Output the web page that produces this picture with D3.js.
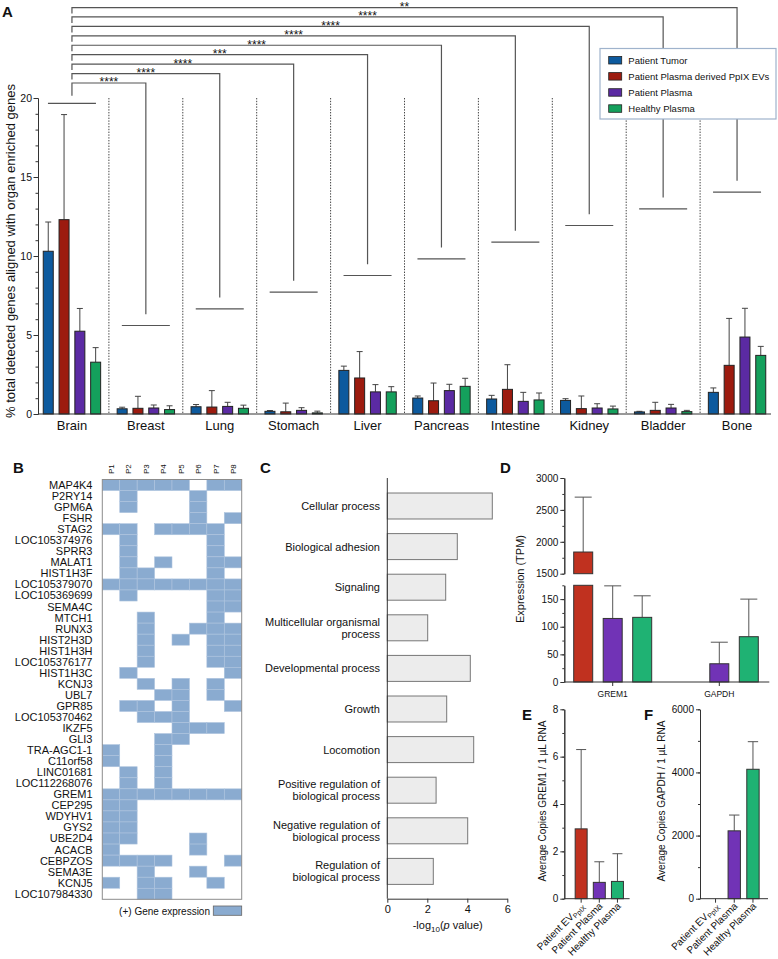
<!DOCTYPE html>
<html>
<head>
<meta charset="utf-8">
<script src="https://cdn.jsdelivr.net/npm/d3@7"></script>
<style>
  body { margin: 0; background: #fff; }
  svg text { font-family: "Liberation Sans", Arial, sans-serif; fill: #111; }
</style>
</head>
<body>
<div id="chart"></div>
<script>
// ---------- Panel A data ----------
const organs = ["Brain", "Breast", "Lung", "Stomach", "Liver", "Pancreas", "Intestine", "Kidney", "Bladder", "Bone"];
const series = ["Patient Tumor", "Patient Plasma derived PpIX EVs", "Patient Plasma", "Healthy Plasma"];
const tumorMean   = [10.3, 0.33, 0.46, 0.17, 2.76, 1.01, 0.95, 0.86, 0.13, 1.37];
const tumorSD     = [1.85, 0.10, 0.14, 0.05, 0.27, 0.13, 0.23, 0.11, 0.04, 0.28];
const evMean      = [12.3, 0.36, 0.44, 0.14, 2.28, 0.84, 1.56, 0.34, 0.23, 3.08];
const evSD        = [6.65, 0.76, 1.04, 0.55, 1.67, 1.12, 1.56, 0.80, 0.51, 2.97];
const plasmaMean  = [5.24, 0.38, 0.48, 0.23, 1.40, 1.48, 0.80, 0.38, 0.38, 4.87];
const plasmaSD    = [1.44, 0.19, 0.26, 0.17, 0.46, 0.40, 0.57, 0.27, 0.23, 1.82];
const healthyMean = [3.28, 0.28, 0.36, 0.07, 1.40, 1.75, 0.89, 0.32, 0.15, 3.71];
const healthySD   = [0.92, 0.24, 0.20, 0.11, 0.33, 0.51, 0.44, 0.18, 0.08, 0.57];
// significance of Brain vs each other organ
const sigLabels = ["****", "****", "****", "***", "****", "****", "****", "****", "**"];
const yTicksA = [0, 5, 10, 15, 20];

// ---------- Panel B data ----------
const patients = ["P1", "P2", "P3", "P4", "P5", "P6", "P7", "P8"];
const genes = ["MAP4K4", "P2RY14", "GPM6A", "FSHR", "STAG2", "LOC105374976", "SPRR3", "MALAT1",
  "HIST1H3F", "LOC105379070", "LOC105369699", "SEMA4C", "MTCH1", "RUNX3", "HIST2H3D", "HIST1H3H",
  "LOC105376177", "HIST1H3C", "KCNJ3", "UBL7", "GPR85", "LOC105370462", "IKZF5", "GLI3",
  "TRA-AGC1-1", "C11orf58", "LINC01681", "LOC112268076", "GREM1", "CEP295", "WDYHV1", "GYS2",
  "UBE2D4", "ACACB", "CEBPZOS", "SEMA3E", "KCNJ5", "LOC107984330"];
// one string per gene, one character per patient (1 = expressed)
const expression = ["11111011", "01000100", "01000100", "00000101", "11011110", "01000010", "01000010", "01010011",
  "01100010", "11111111", "01000011", "00000011", "00100010", "00100111", "00101011", "00100011",
  "00100011", "01000001", "00101010", "00011010", "01101001", "00111000", "00001110", "00011000",
  "10010000", "10010000", "01010000", "01010000", "11111111", "11000000", "11000000", "11000000",
  "11000100", "10000100", "11110001", "00100100", "10110010", "00110000"];

// ---------- Panel C data ----------
const goTerms = ["Cellular process", "Biological adhesion", "Signaling", "Multicellular organismal\nprocess",
  "Developmental process", "Growth", "Locomotion", "Positive regulation of\nbiological process",
  "Negative regulation of\nbiological process", "Regulation of\nbiological process"];
const goValues = [5.25, 3.5, 2.92, 2.02, 4.15, 2.97, 4.32, 2.44, 4.02, 2.3];
const goTicks = [0, 2, 4, 6];

// ---------- Panel D data ----------
const dGenes = ["GREM1", "GAPDH"];
const dSeries = ["Patient EV", "Patient Plasma", "Healthy Plasma"];
const dEVMean = [1840, 0],   dEVSD = [860, 0];
const dPlasmaMean = [115, 33], dPlasmaSD = [59, 39];
const dHealthyMean = [117, 82], dHealthySD = [39, 68];

// ---------- Panel E / F data ----------
const qGroups = ["Patient EV", "Patient Plasma", "Healthy Plasma"];
const gremMean = [2.95, 0.69, 0.73], gremSD = [3.35, 0.87, 1.17];
const gapdhMean = [0, 2150, 4100],   gapdhSD = [0, 500, 874];

// ---------- setup ----------
const width = 778, height = 959;
const svg = d3.select("#chart").append("svg")
  .attr("width", width).attr("height", height);

const colA = d3.scaleOrdinal().domain(series).range(["#0d5a9e", "#9c1b0f", "#5b2aa3", "#14a05c"]);
const colQ = ["#c0311f", "#7133b6", "#1fb273"];
const plain = d3.format("d");

function panelLabel(t, x, y) {
  svg.append("text").attr("x", x).attr("y", y).text(t)
    .attr("font-size", 15).attr("font-weight", "bold");
}

function styleAxis(g, size) {
  g.selectAll("path, line").attr("stroke", "#333").attr("stroke-width", 1);
  g.selectAll("text").attr("font-size", size).attr("fill", "#111")
    .attr("font-family", '"Liberation Sans", Arial, sans-serif');
}

// ======================= Panel A =======================
panelLabel("A", 2, 17);
const x0 = d3.scaleBand().domain(organs).range([35, 774]);
const x1 = d3.scaleBand().domain(series).range([-34.5, 34.5]).padding(0.367);
const yA = d3.scaleLinear().domain([0, 20]).range([414, 98]);
const cx = o => x0(o) + x0.bandwidth() / 2;

const aData = organs.map((o, i) => ({
  organ: o,
  vals: [
    { s: series[0], m: tumorMean[i], sd: tumorSD[i] },
    { s: series[1], m: evMean[i], sd: evSD[i] },
    { s: series[2], m: plasmaMean[i], sd: plasmaSD[i] },
    { s: series[3], m: healthyMean[i], sd: healthySD[i] }
  ]
}));

// dotted separators between organs
svg.selectAll(".sep").data(organs.slice(1)).enter().append("line")
  .attr("x1", d => x0(d)).attr("x2", d => x0(d))
  .attr("y1", yA(20)).attr("y2", yA(0))
  .attr("stroke", "#444").attr("stroke-width", 1).attr("stroke-dasharray", "1.4,1.4");

const grp = svg.selectAll(".grp").data(aData).enter().append("g")
  .attr("transform", d => `translate(${cx(d.organ)},0)`);

grp.selectAll(".err").data(d => d.vals).enter().append("path")
  .attr("d", v => {
    const xc = x1(v.s) + x1.bandwidth() / 2, yt = yA(v.m + v.sd);
    return `M${xc},${yA(v.m)}V${yt}M${xc - 3},${yt}H${xc + 3}`;
  })
  .attr("stroke", "#444").attr("stroke-width", 1).attr("fill", "none");

grp.selectAll(".bar").data(d => d.vals).enter().append("rect")
  .attr("x", v => x1(v.s)).attr("width", x1.bandwidth())
  .attr("y", v => yA(v.m)).attr("height", v => yA(0) - yA(v.m))
  .attr("fill", v => colA(v.s)).attr("stroke", "#222").attr("stroke-width", 1);

// y axis
const yAxisA = svg.append("g").attr("transform", "translate(38,0)")
  .call(d3.axisLeft(yA).tickValues(yTicksA).tickFormat(plain).tickSize(4.5).tickPadding(1.5).tickSizeOuter(0));
styleAxis(yAxisA, 10.5);
const yMinorA = svg.append("g").attr("transform", "translate(38,0)")
  .call(d3.axisLeft(yA).tickValues(d3.range(0, 21)).tickSize(2.5).tickFormat("").tickSizeOuter(0));
styleAxis(yMinorA, 10);

svg.append("line").attr("x1", 38).attr("x2", 771).attr("y1", yA(0)).attr("y2", yA(0))
  .attr("stroke", "#333").attr("stroke-width", 1);

svg.selectAll(".cat").data(organs).enter().append("text")
  .attr("x", d => cx(d)).attr("y", 430).attr("text-anchor", "middle")
  .attr("font-size", 13).text(d => d);

svg.append("text")
  .attr("transform", "translate(15,251) rotate(-90)")
  .attr("text-anchor", "middle").attr("font-size", 13)
  .text("% total detected genes aligned with organ enriched genes");

// significance brackets
const brainX = cx(organs[0]);
const brk = svg.append("g").attr("stroke", "#555").attr("stroke-width", 1.2).attr("fill", "none");
brk.append("line").attr("x1", brainX - 24).attr("x2", brainX + 24)
  .attr("y1", yA(19.66)).attr("y2", yA(19.66));
organs.slice(1).forEach((o, i) => {
  const xo = cx(o);
  const base = 5.6 + i * 1.055;
  const top = yA(20.95 + i * 0.597);
  brk.append("line").attr("x1", xo - 24).attr("x2", xo + 24)
    .attr("y1", yA(base)).attr("y2", yA(base));
  const legEnd = i === 0 ? yA(20.15) : top + 6;
  brk.append("path")
    .attr("d", `M${brainX},${legEnd}V${top}H${xo}V${yA(base + 0.72)}`);
  svg.append("text").attr("x", (brainX + xo) / 2).attr("y", top + 3.5)
    .attr("text-anchor", "middle").attr("font-size", 12).text(sigLabels[i]);
});

// legend
const legA = svg.append("g").attr("transform", "translate(600,48.5)");
legA.append("rect").attr("width", 176).attr("height", 70.5)
  .attr("fill", "#fff").attr("stroke", "#9fb3cc").attr("stroke-width", 1.2);
series.forEach((s, i) => {
  legA.append("rect").attr("x", 8.7).attr("y", 8 + i * 16.1).attr("width", 13).attr("height", 7.5)
    .attr("fill", colA(s)).attr("stroke", "#222").attr("stroke-width", 0.8);
  legA.append("text").attr("x", 28.3).attr("y", 15.3 + i * 16.1)
    .attr("font-size", 9.5).text(s);
});

// ======================= Panel B =======================
panelLabel("B", 13, 473);
const xB = d3.scaleBand().domain(patients).range([102.3, 241.7]);
const yB = d3.scaleBand().domain(genes).range([479.5, 899.3]);
const cellColor = "#8aabd0";

const cells = [];
genes.forEach((g, i) => {
  patients.forEach((p, j) => { if (expression[i][j] === "1") cells.push({ g, p }); });
});
svg.selectAll(".cell").data(cells).enter().append("rect")
  .attr("x", d => xB(d.p)).attr("y", d => yB(d.g))
  .attr("width", xB.bandwidth()).attr("height", yB.bandwidth())
  .attr("fill", cellColor).attr("stroke", "#aec4de").attr("stroke-width", 0.6);

svg.append("rect").attr("x", 102.3).attr("y", 479.5)
  .attr("width", 139.4).attr("height", 419.8)
  .attr("fill", "none").attr("stroke", "#8c8c8c").attr("stroke-width", 1);

svg.selectAll(".gene").data(genes).enter().append("text")
  .attr("x", 92.5).attr("y", d => yB(d) + yB.bandwidth() / 2).attr("dy", "0.36em")
  .attr("text-anchor", "end").attr("font-size", 11).text(d => d);

svg.selectAll(".pat").data(patients).enter().append("text")
  .attr("transform", d => `translate(${xB(d) + xB.bandwidth() / 2 + 3},474) rotate(-90)`)
  .attr("font-size", 8).text(d => d);

svg.append("text").attr("x", 210).attr("y", 914.5).attr("text-anchor", "end")
  .attr("font-size", 10).text("(+) Gene expression");
svg.append("rect").attr("x", 213.3).attr("y", 906).attr("width", 28.4).attr("height", 9.3)
  .attr("fill", cellColor).attr("stroke", "#666").attr("stroke-width", 0.8);

// ======================= Panel C =======================
panelLabel("C", 260, 473);
const xC = d3.scaleLinear().domain([0, 6]).range([387.3, 507.3]);
const yC = d3.scaleBand().domain(goTerms).range([485.7, 891.7]).paddingInner(0.36).paddingOuter(0.18);

svg.selectAll(".go").data(goTerms).enter().append("rect")
  .attr("x", xC(0)).attr("y", d => yC(d))
  .attr("width", (d, i) => xC(goValues[i]) - xC(0)).attr("height", yC.bandwidth())
  .attr("fill", "#ececec").attr("stroke", "#777").attr("stroke-width", 1);

svg.append("line").attr("x1", 387.3).attr("x2", 387.3).attr("y1", 478).attr("y2", 898.7)
  .attr("stroke", "#333");
const xAxisC = svg.append("g").attr("transform", "translate(0,898.7)")
  .call(d3.axisBottom(xC).tickValues(goTicks).tickFormat(plain).tickSize(4).tickPadding(3).tickSizeOuter(0));
styleAxis(xAxisC, 11);

goTerms.forEach(t => {
  const lines = t.split("\n");
  const yc = yC(t) + yC.bandwidth() / 2 - (lines.length - 1) * 6;
  const tx = svg.append("text").attr("x", 380).attr("y", yc)
    .attr("text-anchor", "end").attr("font-size", 11);
  lines.forEach((l, k) => tx.append("tspan").attr("x", 380).attr("dy", k === 0 ? "0.36em" : 12).text(l));
});

const xlabC = svg.append("text").attr("x", 447.7).attr("y", 929).attr("text-anchor", "middle")
  .attr("font-size", 11);
xlabC.append("tspan").text("-log");
xlabC.append("tspan").attr("font-size", 8).attr("dy", 3).text("10");
xlabC.append("tspan").attr("dy", -3).text("(");
xlabC.append("tspan").attr("font-style", "italic").text("p");
xlabC.append("tspan").text(" value)");

// ======================= Panel D =======================
panelLabel("D", 500, 473);
const yDlow = d3.scaleLinear().domain([0, 175]).range([682, 585.3]);
const yDhigh = d3.scaleLinear().domain([1500, 3000]).range([573.7, 478]);
const xD0 = d3.scaleBand().domain(dGenes).range([559.4, 772.6]);
const xD1 = d3.scaleBand().domain(dSeries).range([-49.5, 49.5]).padding(0.356);

const dData = dGenes.map((g, i) => ({
  gene: g,
  vals: [
    { s: dSeries[0], c: colQ[0], m: dEVMean[i], sd: dEVSD[i] },
    { s: dSeries[1], c: colQ[1], m: dPlasmaMean[i], sd: dPlasmaSD[i] },
    { s: dSeries[2], c: colQ[2], m: dHealthyMean[i], sd: dHealthySD[i] }
  ].filter(v => v.m > 0)
}));

const gD = svg.selectAll(".dg").data(dData).enter().append("g")
  .attr("transform", d => `translate(${xD0(d.gene) + xD0.bandwidth() / 2},0)`);

gD.selectAll(".derr").data(d => d.vals).enter().append("path")
  .attr("d", v => {
    const ys = v.m > 175 ? yDhigh : yDlow;
    const xl = xD1(v.s), xr = xl + xD1.bandwidth(), xc = (xl + xr) / 2;
    const yt = ys(v.m + v.sd);
    return `M${xc},${ys(v.m)}V${yt}M${xl + 1},${yt}H${xr - 1}`;
  })
  .attr("stroke", "#555").attr("stroke-width", 1).attr("fill", "none");

gD.each(function(d) {
  const g = d3.select(this);
  d.vals.forEach(v => {
    const segs = v.m > 175 ? [[yDlow, 0, 175], [yDhigh, 1500, v.m]] : [[yDlow, 0, v.m]];
    segs.forEach(([sc, a, b]) => {
      g.append("rect").attr("x", xD1(v.s)).attr("width", xD1.bandwidth())
        .attr("y", sc(b)).attr("height", sc(a) - sc(b))
        .attr("fill", v.c).attr("stroke", "#333").attr("stroke-width", 1);
    });
  });
});

const axLowD = svg.append("g").attr("transform", "translate(564.3,0)")
  .call(d3.axisLeft(yDlow).tickValues([0, 50, 100, 150]).tickFormat(plain).tickSize(4).tickPadding(2).tickSizeOuter(0));
styleAxis(axLowD, 10);
const axLowDm = svg.append("g").attr("transform", "translate(564.3,0)")
  .call(d3.axisLeft(yDlow).tickValues(d3.range(0, 176, 25)).tickSize(2).tickFormat("").tickSizeOuter(0));
styleAxis(axLowDm, 10);
const axHighD = svg.append("g").attr("transform", "translate(564.3,0)")
  .call(d3.axisLeft(yDhigh).tickValues([1500, 2000, 2500, 3000]).tickFormat(plain).tickSize(4).tickPadding(2).tickSizeOuter(0));
styleAxis(axHighD, 10);
const axHighDm = svg.append("g").attr("transform", "translate(564.3,0)")
  .call(d3.axisLeft(yDhigh).tickValues(d3.range(1500, 3001, 250)).tickSize(2).tickFormat("").tickSizeOuter(0));
styleAxis(axHighDm, 10);

svg.append("line").attr("x1", 564.3).attr("x2", 769.3).attr("y1", 682).attr("y2", 682).attr("stroke", "#333");
dGenes.forEach(g => {
  const xc = xD0(g) + xD0.bandwidth() / 2;
  svg.append("line").attr("x1", xc).attr("x2", xc).attr("y1", 682).attr("y2", 686).attr("stroke", "#333");
  svg.append("text").attr("x", xc).attr("y", 697).attr("text-anchor", "middle")
    .attr("font-size", 8.5).text(g);
});
svg.append("text").attr("transform", "translate(524,579) rotate(-90)")
  .attr("text-anchor", "middle").attr("font-size", 11).text("Expression (TPM)");

// ======================= Panels E and F =======================
function qPanel(opt) {
  const y = d3.scaleLinear().domain([0, opt.max]).range([898.7, 709.3]);
  const x = d3.scaleBand().domain(qGroups).range(opt.xr).padding(0.34);
  const vals = qGroups.map((g, i) => ({ g, m: opt.mean[i], sd: opt.sd[i], c: colQ[i] })).filter(v => v.m > 0);

  svg.selectAll(null).data(vals).enter().append("path")
    .attr("d", v => {
      const xl = x(v.g), xr = xl + x.bandwidth(), xc = (xl + xr) / 2, yt = y(v.m + v.sd);
      return `M${xc},${y(v.m)}V${yt}M${xl + 1},${yt}H${xr - 1}`;
    })
    .attr("stroke", "#555").attr("stroke-width", 1).attr("fill", "none");
  svg.selectAll(null).data(vals).enter().append("rect")
    .attr("x", v => x(v.g)).attr("width", x.bandwidth())
    .attr("y", v => y(v.m)).attr("height", v => y(0) - y(v.m))
    .attr("fill", v => v.c).attr("stroke", "#333").attr("stroke-width", 1);

  const ax = svg.append("g").attr("transform", `translate(${opt.ax},0)`)
    .call(d3.axisLeft(y).tickValues(opt.ticks).tickFormat(plain).tickSize(4).tickPadding(2).tickSizeOuter(0));
  styleAxis(ax, 10);
  const axm = svg.append("g").attr("transform", `translate(${opt.ax},0)`)
    .call(d3.axisLeft(y).tickValues(opt.minor).tickSize(2).tickFormat("").tickSizeOuter(0));
  styleAxis(axm, 10);

  svg.append("line").attr("x1", opt.ax).attr("x2", opt.xEnd).attr("y1", y(0)).attr("y2", y(0)).attr("stroke", "#333");
  qGroups.forEach((g, i) => {
    const xc = x(g) + x.bandwidth() / 2;
    svg.append("line").attr("x1", xc).attr("x2", xc).attr("y1", y(0)).attr("y2", y(0) + 4).attr("stroke", "#333");
    const t = svg.append("text").attr("transform", `translate(${xc + 4},${y(0) + 8}) rotate(-45)`)
      .attr("text-anchor", "end").attr("font-size", 10);
    t.append("tspan").text(g);
    if (i === 0) t.append("tspan").attr("font-size", 7).attr("dy", 2).text("PpIX");
  });

  svg.append("text").attr("transform", `translate(${opt.labX},801) rotate(-90)`)
    .attr("text-anchor", "middle").attr("font-size", 10).text(opt.label);
}

panelLabel("E", 522, 720);
qPanel({
  max: 8, ticks: [0, 2, 4, 6, 8], minor: d3.range(0, 9), ax: 564.3, xEnd: 629.6,
  xr: [569, 629.6], mean: gremMean, sd: gremSD, labX: 546, label: "Average Copies GREM1 / 1 µL RNA"
});
panelLabel("F", 644, 720);
qPanel({
  max: 6000, ticks: [0, 2000, 4000, 6000], minor: d3.range(0, 6001, 1000), ax: 700, xEnd: 768,
  xr: [703, 765.5], mean: gapdhMean, sd: gapdhSD, labX: 665, label: "Average Copies GAPDH / 1 µL RNA"
});
</script>
</body>
</html>
